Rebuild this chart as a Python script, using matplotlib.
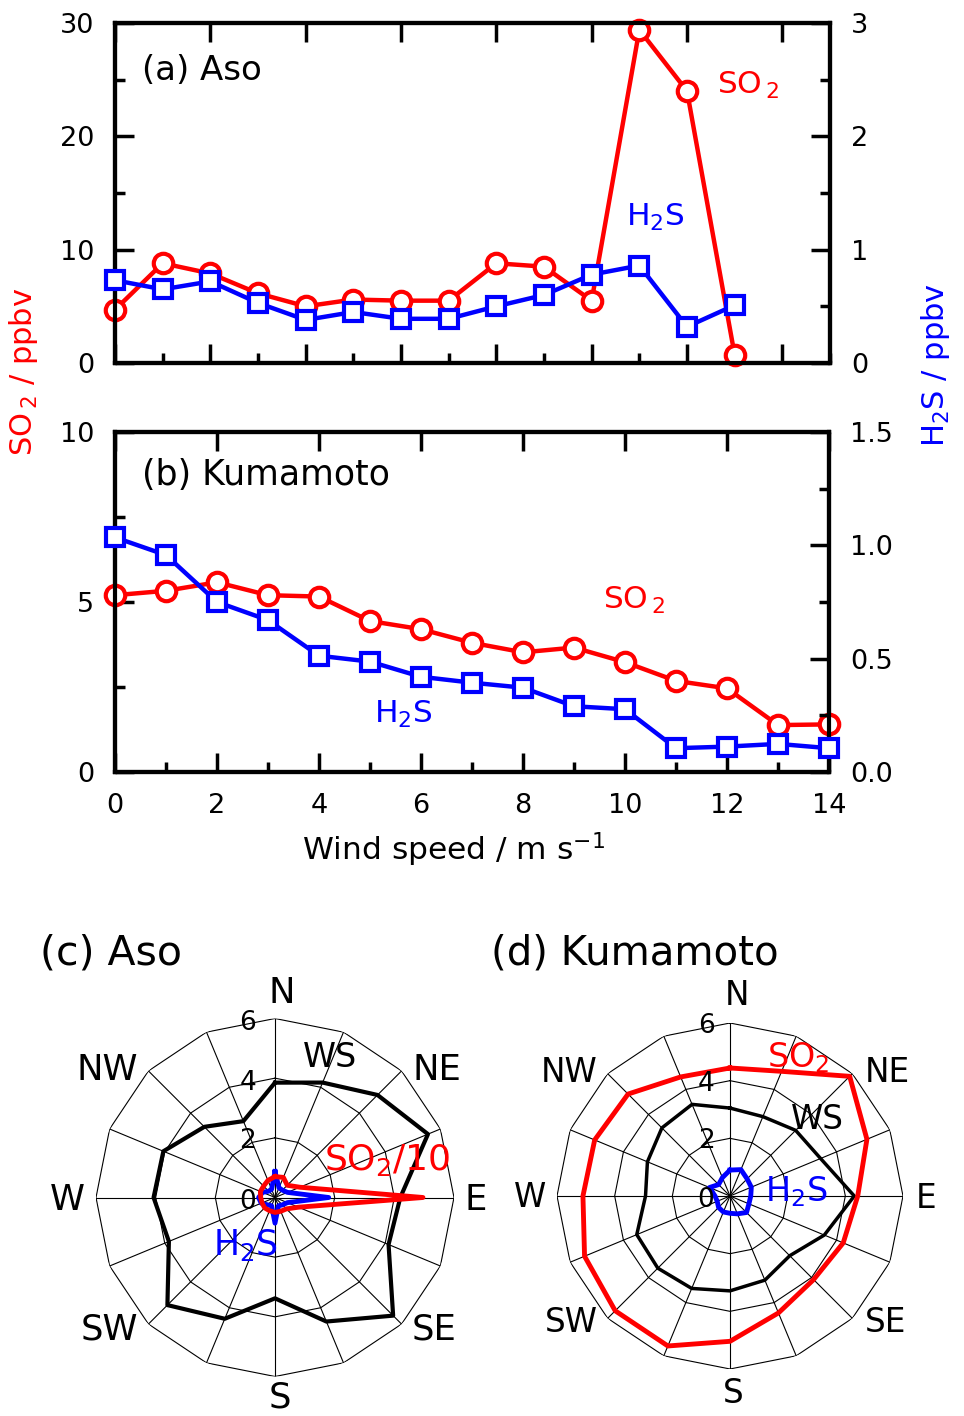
import numpy as np
import matplotlib
matplotlib.use("Agg")
import matplotlib.pyplot as plt
from matplotlib.ticker import MultipleLocator

plt.rcParams['font.family'] = ['DejaVu Sans']
plt.rcParams['mathtext.fontset'] = 'dejavusans'

# ---------------- data ----------------
ws_a = [0, 1, 2, 3, 4, 5, 6, 7, 8, 9, 10, 11, 12, 13]
so2_a = [4.7, 8.8, 7.9, 6.15, 5.0, 5.6, 5.5, 5.5, 8.8, 8.5, 5.5, 29.4, 24.0, 0.7]
h2s_a = [0.73, 0.65, 0.72, 0.53, 0.38, 0.45, 0.39, 0.39, 0.50, 0.60, 0.78, 0.86, 0.32, 0.51]

ws_b = [0, 1, 2, 3, 4, 5, 6, 7, 8, 9, 10, 11, 12, 13, 14]
so2_b = [5.2, 5.33, 5.58, 5.2, 5.16, 4.44, 4.2, 3.8, 3.52, 3.66, 3.23, 2.68, 2.46, 1.38, 1.40]
h2s_b = [1.035, 0.957, 0.75, 0.67, 0.513, 0.487, 0.42, 0.394, 0.372, 0.29, 0.277,
         0.105, 0.112, 0.124, 0.105]

directions = ['N', 'NNE', 'NE', 'ENE', 'E', 'ESE', 'SE', 'SSE',
              'S', 'SSW', 'SW', 'WSW', 'W', 'WNW', 'NW', 'NNW']
dir_deg = [0, 22.5, 45, 67.5, 90, 112.5, 135, 157.5,
           180, 202.5, 225, 247.5, 270, 292.5, 315, 337.5]

aso_ws = [3.85, 4.17, 4.86, 5.55, 4.2, 4.12, 5.6, 4.5, 3.38, 4.4, 5.1, 3.85, 4.07, 4.05, 3.35, 2.77]
aso_so2_10 = [0.70, 0.73, 0.58, 0.9, 4.96, 0.85, 0.54, 0.5, 0.5, 0.48, 0.49, 0.47, 0.48, 0.53, 0.54, 0.62]
aso_h2s = [0.87, 0.35, 0.35, 0.45, 1.8, 0.45, 0.35, 0.3, 0.86, 0.3, 0.35, 0.5, 0.55, 0.45, 0.3, 0.3]

kum_ws = [3.05, 2.98, 3.22, 3.4, 4.31, 3.54, 2.93, 3.16, 3.29, 3.47, 3.54, 3.5, 2.93, 3.1, 3.34, 3.44]
kum_so2 = [4.44, 4.68, 5.87, 5.14, 4.43, 4.25, 4.1, 4.39, 5.04, 5.63, 5.63, 5.46, 5.1, 5.08, 5.0, 4.47]
kum_h2s = [0.9, 0.99, 0.84, 0.8, 0.72, 0.71, 0.81, 0.67, 0.6, 0.6, 0.56, 0.48, 0.52, 0.77, 0.56, 0.69]

compass_labels = ['N', 'NE', 'E', 'SE', 'S', 'SW', 'W', 'NW']
ring_values = [0, 2, 4, 6]

# ---------------- figure ----------------
W, H = 964, 1416
fig = plt.figure(figsize=(W / 100, H / 100), dpi=100)


def fx(x):
    return x / W


def fy(y):
    return 1 - y / H


def rect(l, t, r, b):
    return [fx(l), fy(b), (r - l) / W, (b - t) / H]


RED = '#ff0000'
BLUE = '#0000ff'
TICKFS = 19.5


def style_axes(ax, twin):
    for sp in ax.spines.values():
        sp.set_linewidth(3)
    ax.tick_params(which='both', direction='in', width=2.5, labelsize=TICKFS, pad=15)
    ax.tick_params(which='major', length=14)
    ax.tick_params(which='minor', length=7)
    ax.tick_params(axis='x', top=True, bottom=True)
    ax.tick_params(axis='y', left=True, right=False)
    twin.tick_params(which='both', direction='in', width=2.5, labelsize=TICKFS, pad=15)
    twin.tick_params(which='major', length=14)
    twin.tick_params(which='minor', length=7)
    twin.tick_params(axis='y', left=False, right=True)
    for sp in twin.spines.values():
        sp.set_linewidth(3)


line_kw = dict(lw=3.2, mfc='white', mew=3, clip_on=False, zorder=5)

# ---- panel (a)
axa = fig.add_axes(rect(115, 23, 830, 363))
axa2 = axa.twinx()
axa.plot(ws_a, so2_a, '-o', color=RED, mec=RED, ms=14, **line_kw)
axa2.plot(ws_a, h2s_a, '-s', color=BLUE, mec=BLUE, ms=13, **line_kw)
axa.set_xlim(0, 15)
axa.set_ylim(0, 30)
axa2.set_ylim(0, 3)
axa.xaxis.set_major_locator(MultipleLocator(2))
axa.xaxis.set_minor_locator(MultipleLocator(1))
axa.yaxis.set_major_locator(MultipleLocator(10))
axa.yaxis.set_minor_locator(MultipleLocator(5))
axa2.yaxis.set_major_locator(MultipleLocator(1))
axa2.yaxis.set_minor_locator(MultipleLocator(0.5))
style_axes(axa, axa2)
axa.tick_params(axis='x', labelbottom=False)

# ---- panel (b)
axb = fig.add_axes(rect(115, 432, 829, 772))
axb2 = axb.twinx()
axb.plot(ws_b, so2_b, '-o', color=RED, mec=RED, ms=14, **line_kw)
axb2.plot(ws_b, h2s_b, '-s', color=BLUE, mec=BLUE, ms=13, **line_kw)
axb.set_xlim(0, 14)
axb.set_ylim(0, 10)
axb2.set_ylim(0, 1.5)
axb.xaxis.set_major_locator(MultipleLocator(2))
axb.xaxis.set_minor_locator(MultipleLocator(1))
axb.yaxis.set_major_locator(MultipleLocator(5))
axb.yaxis.set_minor_locator(MultipleLocator(2.5))
axb2.yaxis.set_major_locator(MultipleLocator(0.5))
axb2.yaxis.set_minor_locator(MultipleLocator(0.25))
axb2.set_yticks([0, 0.5, 1.0, 1.5])
axb2.set_yticklabels(['0.0', '0.5', '1.0', '1.5'])
style_axes(axb, axb2)

# texts for line panels
fig.text(fx(142), fy(80), '(a) Aso', fontsize=24.5, va='baseline', ha='left')
fig.text(fx(142), fy(485), '(b) Kumamoto', fontsize=25, va='baseline', ha='left')
fig.text(fx(717), fy(94), r'SO$_{\,2}$', fontsize=22.5, color=RED, va='baseline', ha='left')
fig.text(fx(626), fy(226), r'H$_{2}$S', fontsize=22.5, color=BLUE, va='baseline', ha='left')
fig.text(fx(603), fy(609), r'SO$_{\,2}$', fontsize=22.5, color=RED, va='baseline', ha='left')
fig.text(fx(374), fy(723), r'H$_{2}$S', fontsize=22.5, color=BLUE, va='baseline', ha='left')

fig.text(fx(24), fy(372), r'SO$_{\,2}$ / ppbv', fontsize=22, color=RED, rotation=90,
         ha='center', va='center')
fig.text(fx(935), fy(365), r'H$_{2}$S / ppbv', fontsize=22, color=BLUE, rotation=90,
         ha='center', va='center')
fig.text(fx(454), fy(850), r'Wind speed / m s$^{-1}$', fontsize=22.5, ha='center', va='center')

# ---------------- polar panels ----------------
theta = np.deg2rad(dir_deg)
theta_c = np.append(theta, theta[0])


def closed(v):
    return list(v) + [v[0]]


def make_polar(cx, cy, r):
    ax = fig.add_axes(rect(cx - r, cy - r, cx + r, cy + r), projection='polar')
    ax.set_theta_zero_location('N')
    ax.set_theta_direction(-1)
    ax.set_ylim(0, 6)
    ax.grid(False)
    ax.set_xticks([])
    ax.set_yticks([])
    ax.spines['polar'].set_visible(False)
    ax.patch.set_visible(False)
    for rv in ring_values[1:]:
        ax.plot(theta_c, [rv] * len(theta_c), color='k', lw=0.8, zorder=1)
    for t in theta:
        ax.plot([t, t], [0, 6], color='k', lw=0.8, zorder=1)
    return ax


axc = make_polar(275, 1197.5, 179)
axc.plot(theta_c, closed(aso_ws), color='k', lw=3, zorder=3)
axc.plot(theta_c, closed(aso_h2s), color=BLUE, lw=3.5, zorder=4)
axc.plot(theta_c, closed(aso_so2_10), color=RED, lw=3.5, zorder=5)

axd = make_polar(730, 1196, 173)
axd.plot(theta_c, closed(kum_so2), color=RED, lw=3.5, zorder=4)
axd.plot(theta_c, closed(kum_ws), color='k', lw=2.5, zorder=3)
axd.plot(theta_c, closed(kum_h2s), color=BLUE, lw=3.5, zorder=5)

# compass labels: (x center, baseline)
comp_c = [(282, 1003), (437, 1080), (476, 1210), (434, 1340),
          (280, 1408), (109, 1340), (67, 1210), (107, 1080)]
comp_d = [(737, 1005), (887, 1082), (926, 1208), (886, 1332),
          (733, 1403), (571, 1332), (530, 1207), (569, 1082)]
for lab, (x, y) in zip(compass_labels, comp_c):
    fig.text(fx(x), fy(y), lab, fontsize=25.5, ha='center', va='baseline')
for lab, (x, y) in zip(compass_labels, comp_d):
    fig.text(fx(x), fy(y), lab, fontsize=23.5, ha='center', va='baseline')

ring_c = [(248, 1209), (248, 1148), (248, 1090), (248, 1030)]
ring_d = [(706, 1207), (706, 1148), (706, 1091), (706, 1033)]
for v, (x, y) in zip(ring_values, ring_c):
    fig.text(fx(x), fy(y), str(v), fontsize=19, ha='center', va='baseline')
for v, (x, y) in zip(ring_values, ring_d):
    fig.text(fx(x), fy(y), str(v), fontsize=19, ha='center', va='baseline')

fig.text(fx(40), fy(965), '(c) Aso', fontsize=29.5, ha='left', va='baseline')
fig.text(fx(491), fy(965), '(d) Kumamoto', fontsize=29, ha='left', va='baseline')

fig.text(fx(303), fy(1067), 'WS', fontsize=24, ha='left', va='baseline')
fig.text(fx(324), fy(1170), r'SO$_{2}$/10', fontsize=26, color=RED, ha='left', va='baseline')
fig.text(fx(213), fy(1255), r'H$_{2}$S', fontsize=25, color=BLUE, ha='left', va='baseline')

fig.text(fx(767), fy(1067), r'SO$_{2}$', fontsize=24, color=RED, ha='left', va='baseline')
fig.text(fx(791), fy(1129), 'WS', fontsize=23.5, ha='left', va='baseline')
fig.text(fx(765), fy(1201), r'H$_{2}$S', fontsize=24, color=BLUE, ha='left', va='baseline')

fig.savefig('out.png', dpi=100)
